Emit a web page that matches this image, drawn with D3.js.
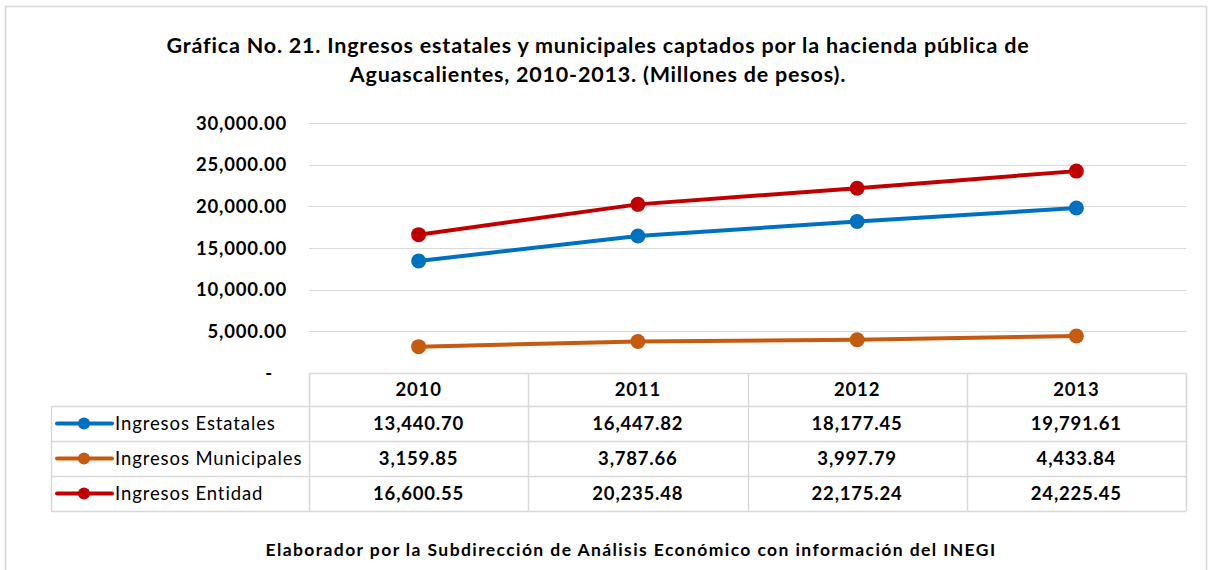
<!DOCTYPE html>
<html>
<head>
<meta charset="utf-8">
<script src="https://cdn.jsdelivr.net/npm/d3@7"></script>
<style>
  html, body { margin: 0; padding: 0; background: #fff; }
  svg text { font-family: Lato, "Open Sans", sans-serif; fill: #000; }
</style>
</head>
<body>
<svg id="chart" width="1212" height="570"></svg>
<script>
// Datos
const years = ["2010", "2011", "2012", "2013"];
const seriesNames = ["Ingresos Estatales", "Ingresos Municipales", "Ingresos Entidad"];
const seriesColors = ["#0070C0", "#C55A11", "#C00000"];
const estatales = [13440.70, 16447.82, 18177.45, 19791.61];
const municipales = [3159.85, 3787.66, 3997.79, 4433.84];
const entidad = [16600.55, 20235.48, 22175.24, 24225.45];
const yTicks = [0, 5000, 10000, 15000, 20000, 25000, 30000];
const titleLines = [
  "Gráfica No. 21. Ingresos estatales y municipales captados por la hacienda pública de",
  "Aguascalientes, 2010-2013. (Millones de pesos)."
];
const footer = "Elaborador por la Subdirección de Análisis Económico con información del INEGI";

const series = [estatales, municipales, entidad].map((values, i) => ({
  name: seriesNames[i],
  color: seriesColors[i],
  values
}));

const svg = d3.select("#chart");

// Marco exterior
svg.append("rect")
  .attr("x", 5.5).attr("y", 6.5)
  .attr("width", 1201).attr("height", 600)
  .attr("fill", "none")
  .attr("stroke", "#d9d9d9")
  .attr("stroke-width", 1.5);

// Título
svg.append("g").selectAll("text")
  .data(titleLines)
  .join("text")
  .attr("x", 598)
  .attr("y", (d, i) => 53 + i * 29)
  .attr("text-anchor", "middle")
  .style("font-size", "21.5px")
  .style("font-weight", "700")
  .style("letter-spacing", "0.8px")
  .text(d => d);

// Área de trazado
const plot = { left: 309, right: 1186, top: 123, bottom: 373 };

const x = d3.scaleBand()
  .domain(years)
  .range([plot.left, plot.right]);

const y = d3.scaleLinear()
  .domain([0, 30000])
  .range([plot.bottom, plot.top]);

// Rejilla
svg.append("g").selectAll("line")
  .data(yTicks.filter(d => d > 0))
  .join("line")
  .attr("x1", plot.left).attr("x2", plot.right)
  .attr("y1", d => Math.round(y(d)) + 0.5)
  .attr("y2", d => Math.round(y(d)) + 0.5)
  .attr("stroke", "#d9d9d9")
  .attr("stroke-width", 1);

// Eje Y
const fmt = d3.format(",.2f");
const numStyle = sel => sel
  .style("font-size", "18.5px")
  .style("font-weight", "700")
  .style("letter-spacing", "0.8px");

svg.append("g").selectAll("text")
  .data(yTicks)
  .join("text")
  .attr("x", 287)
  .attr("y", d => y(d) + 6.5)
  .attr("text-anchor", "end")
  .attr("dx", d => d === 0 ? -14 : 0)
  .call(numStyle)
  .text(d => d === 0 ? "-" : fmt(d));

// Líneas
const line = d3.line()
  .x((d, i) => x(years[i]) + x.bandwidth() / 2)
  .y(d => y(d));

const gSeries = svg.append("g");
series.forEach(s => {
  gSeries.append("path")
    .attr("d", line(s.values))
    .attr("fill", "none")
    .attr("stroke", s.color)
    .attr("stroke-width", 4)
    .attr("stroke-linejoin", "round");
  gSeries.selectAll(null)
    .data(s.values)
    .join("circle")
    .attr("cx", (d, i) => x(years[i]) + x.bandwidth() / 2)
    .attr("cy", d => y(d))
    .attr("r", 7.5)
    .attr("fill", s.color);
});

// Tabla de datos
const table = svg.append("g");
const rowTop = plot.bottom;
const rowH = [33, 35, 35, 35];
const rowY = [rowTop];
rowH.forEach((h, i) => rowY.push(rowY[i] + h));
const labelLeft = 51;
const gridColor = "#d9d9d9";

// horizontales
rowY.forEach((yy, i) => {
  table.append("line")
    .attr("x1", i === 0 ? plot.left : labelLeft)
    .attr("x2", plot.right)
    .attr("y1", Math.round(yy) + 0.5).attr("y2", Math.round(yy) + 0.5)
    .attr("stroke", gridColor)
    .attr("stroke-width", 1.5);
});
// verticales
years.forEach(yr => {
  table.append("line")
    .attr("x1", Math.round(x(yr)) + 0.5).attr("x2", Math.round(x(yr)) + 0.5)
    .attr("y1", rowY[0]).attr("y2", rowY[4])
    .attr("stroke", gridColor)
    .attr("stroke-width", 1.5);
});
table.append("line")
  .attr("x1", plot.right + 0.5).attr("x2", plot.right + 0.5)
  .attr("y1", rowY[0]).attr("y2", rowY[4])
  .attr("stroke", gridColor).attr("stroke-width", 1.5);
table.append("line")
  .attr("x1", labelLeft + 0.5).attr("x2", labelLeft + 0.5)
  .attr("y1", rowY[1]).attr("y2", rowY[4])
  .attr("stroke", gridColor).attr("stroke-width", 1.5);

// encabezado de años
table.selectAll(".yr")
  .data(years)
  .join("text")
  .attr("class", "yr")
  .attr("x", d => x(d) + x.bandwidth() / 2)
  .attr("y", rowY[0] + 23)
  .attr("text-anchor", "middle")
  .call(numStyle)
  .text(d => d);

series.forEach((s, si) => {
  const cy = (rowY[si + 1] + rowY[si + 2]) / 2;
  // clave de leyenda
  table.append("line")
    .attr("x1", 57).attr("x2", 112)
    .attr("y1", cy).attr("y2", cy)
    .attr("stroke", s.color)
    .attr("stroke-width", 4)
    .attr("stroke-linecap", "round");
  table.append("circle")
    .attr("cx", 84).attr("cy", cy).attr("r", 6)
    .attr("fill", s.color);
  table.append("text")
    .attr("x", 115)
    .attr("y", cy + 6.5)
    .style("font-size", "18.5px")
    .style("letter-spacing", "0.9px")
    .text(s.name);
  table.selectAll(null)
    .data(s.values)
    .join("text")
    .attr("x", (d, i) => x(years[i]) + x.bandwidth() / 2)
    .attr("y", cy + 6.5)
    .attr("text-anchor", "middle")
    .call(numStyle)
    .text(d => fmt(d));
});

// Fuente
svg.append("text")
  .attr("x", 631)
  .attr("y", 556)
  .attr("text-anchor", "middle")
  .style("font-size", "17.5px")
  .style("font-weight", "700")
  .style("letter-spacing", "1.4px")
  .text(footer);
</script>
</body>
</html>
